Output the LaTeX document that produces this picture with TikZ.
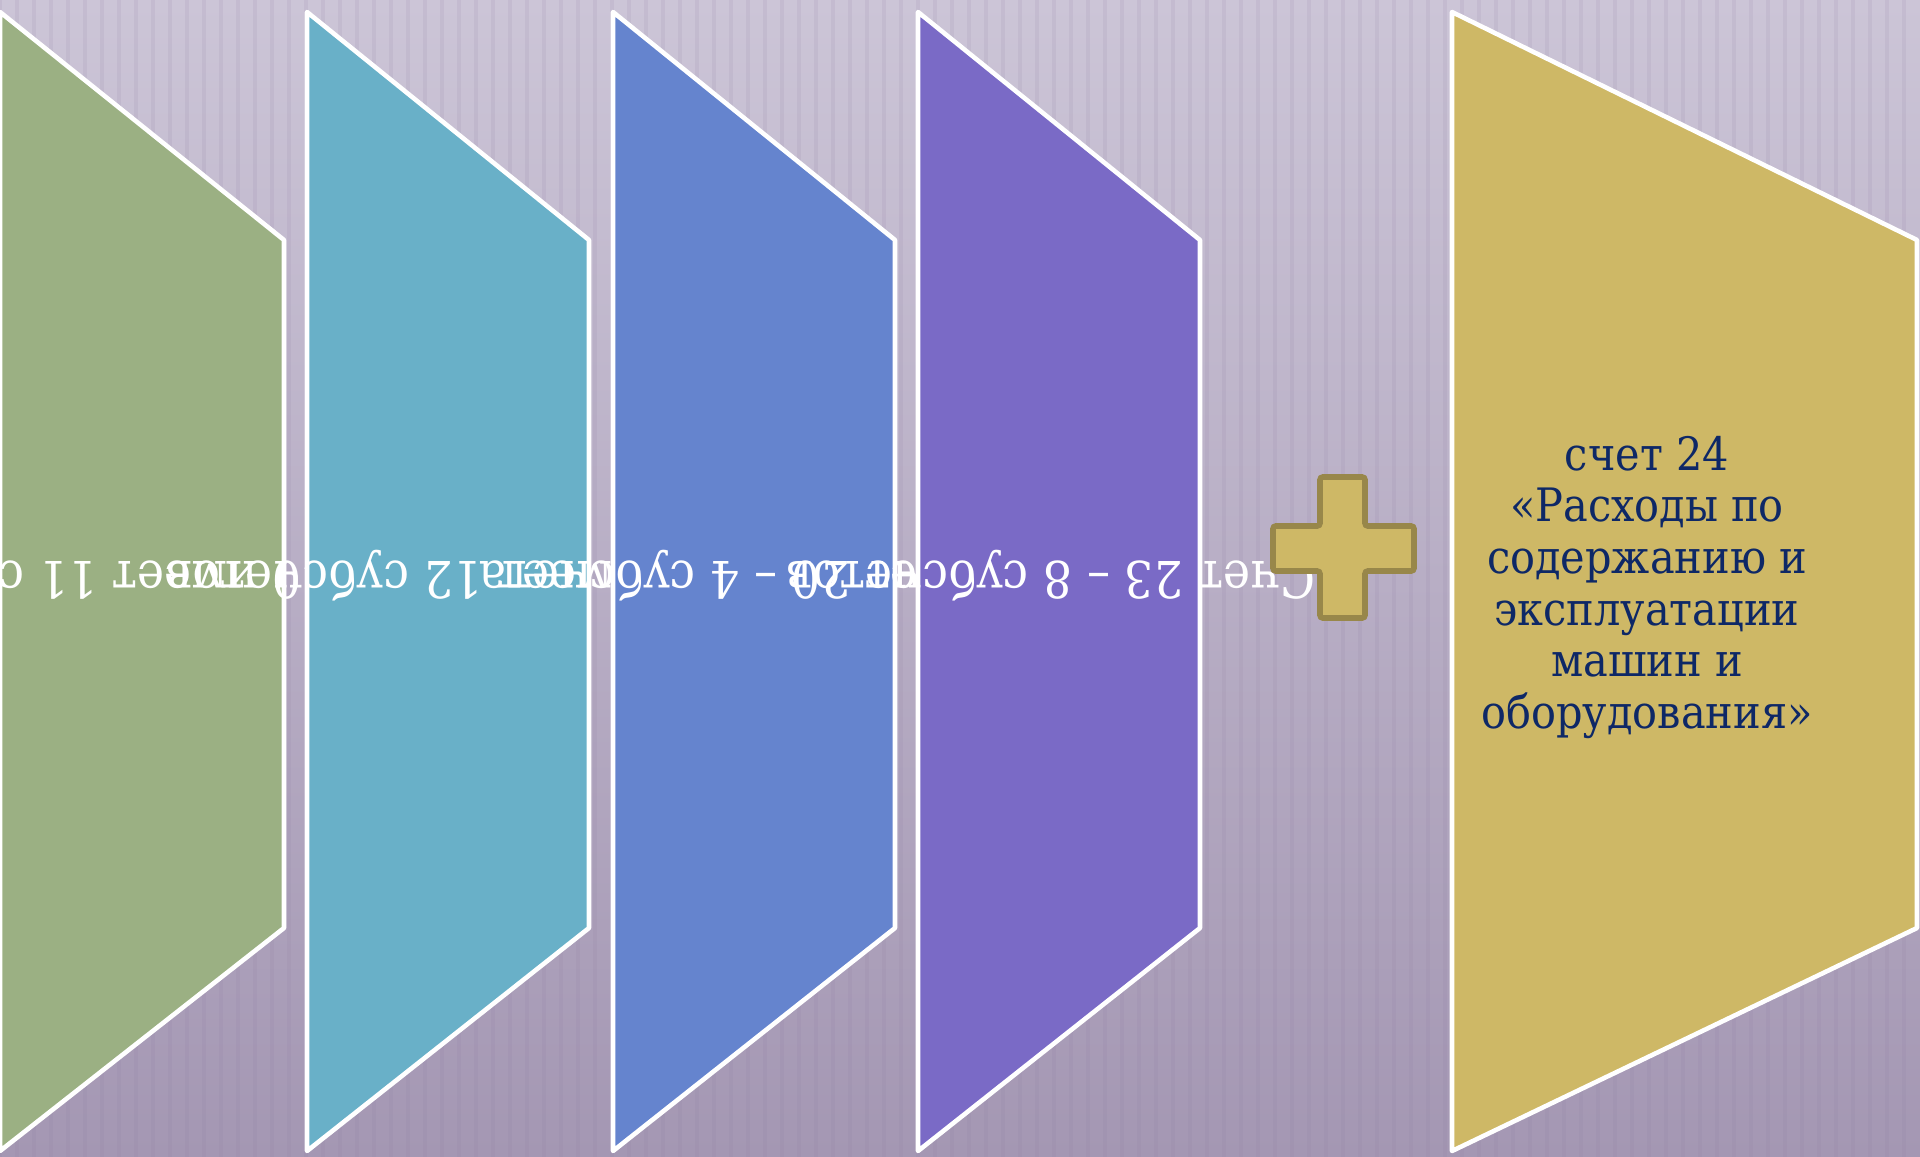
\documentclass[tikz,border=0pt]{standalone}
\usepackage{fontspec}
\setmainfont{DejaVu Serif}[FakeStretch=0.9]
\newfontfamily\wfontfam{DejaVu Serif}[FakeStretch=0.9]
\definecolor{bgtop}{RGB}{204,197,215}
\definecolor{bgmid}{RGB}{196,187,209}
\definecolor{bgbot}{RGB}{164,151,179}
\definecolor{stripecol}{RGB}{140,122,160}
\definecolor{cgreen}{RGB}{155,176,131}
\definecolor{cteal}{RGB}{105,176,200}
\definecolor{cblue}{RGB}{101,132,206}
\definecolor{cpurple}{RGB}{122,106,198}
\definecolor{cgold}{RGB}{206,184,102}
\definecolor{plusedge}{RGB}{152,135,74}
\definecolor{navy}{RGB}{14,40,102}
\newcommand\splitc[3]{\llap{#1\makebox[0.5\width]{\phantom{#2}}}\makebox[0pt]{#2}\rlap{\makebox[0.5\width]{\phantom{#2}}#3}}
\begin{document}
\begin{tikzpicture}[x=0.01cm,y=-0.01cm,
  panel/.style={draw=white,line width=1.3pt,line join=round},
  wtext/.style={rotate=180,anchor=base,inner sep=0pt,text=white,font=\wfontfam\fontsize{14.5pt}{16pt}\selectfont},
  gtext/.style={anchor=base,inner sep=0pt,text=navy,font=\fontsize{13.1pt}{15pt}\selectfont},
  stripe/.style={draw=stripecol,line width=1.2pt,opacity=0.12},
  plusbox/.style={fill=cgold,draw=plusedge,line width=1.6pt,rounded corners=0.8pt}]
\useasboundingbox (0,0) rectangle (1920,1157);
\clip (0,0) rectangle (1920,1157);
% background
\shade[top color=bgtop,middle color=bgmid,bottom color=bgbot] (0,0) rectangle (1920,1157);
\foreach \x in {0,17,...,1920} \draw[stripe] (\x,0) -- (\x,1157);
% panel 1
\path[panel,fill=cgreen] (0,12) -- (284,240) -- (284,928) -- (0,1151) -- cycle;
\node[wtext] (t1) at (68,561) {\splitc{Счет 20 имеет }{11}{ субсчетов}};
% panel 2
\path[panel,fill=cteal] (307,12) -- (589,240) -- (589,928) -- (307,1151) -- cycle;
\node[wtext] (t2) at (453,561) {\splitc{Счет 25 имеет }{12}{ субсчетов}};
% panel 3
\path[panel,fill=cblue] (613,12) -- (895,240) -- (895,928) -- (613,1151) -- cycle;
\node[wtext] (t3) at (725,561) {\splitc{Счет 20 – }{4}{ субсчета}};
% panel 4
\path[panel,fill=cpurple] (918,12) -- (1200,240) -- (1200,928) -- (918,1151) -- cycle;
\node[wtext] (t4) at (1058,561) {\splitc{Счет 23 – }{8}{ субсчетов}};
% gold panel
\path[panel,fill=cgold] (1452,12) -- (1917,240) -- (1917,928) -- (1452,1151) -- cycle;
\node[gtext] (g1) at (1647,470) {счет 24};
\node[gtext] (g2) at (1647,521.7) {«Расходы по};
\node[gtext] (g3) at (1647,573.3) {содержанию и};
\node[gtext] (g4) at (1647,625) {эксплуатации};
\node[gtext] (g5) at (1647,676.7) {машин и};
\node[gtext] (g6) at (1647,728.3) {оборудования»};
% plus sign
\path[plusbox] (1320,477) -- (1365,477) -- (1365,526) -- (1414,526) -- (1414,571) -- (1365,571) -- (1365,618) -- (1320,618) -- (1320,571) -- (1273,571) -- (1273,526) -- (1320,526) -- cycle;
\end{tikzpicture}
\end{document}
